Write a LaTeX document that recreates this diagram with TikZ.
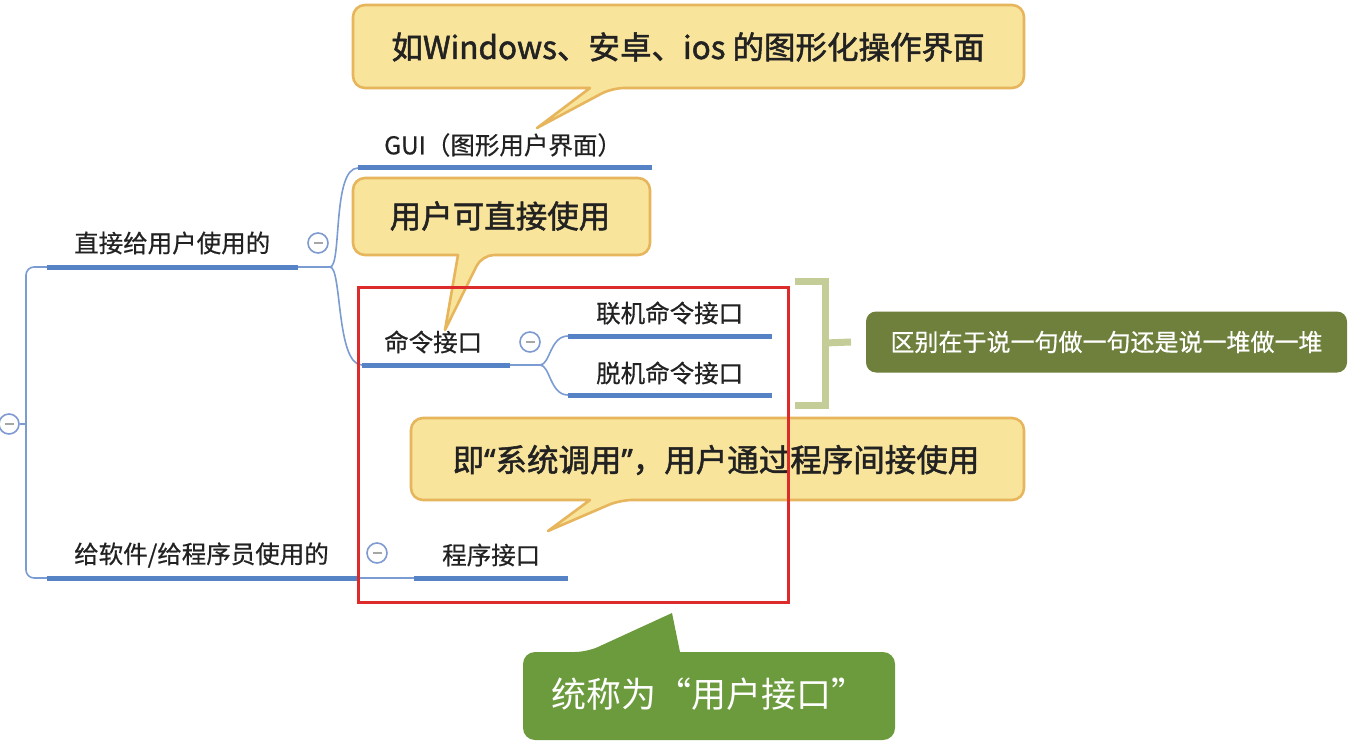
\documentclass[tikz,border=0pt]{standalone}
\usepackage{fontspec}
\setmainfont{Noto Sans CJK SC}
\newfontfamily\medf[FakeBold=0.6]{Noto Sans CJK SC}
\newfontfamily\callf[FakeBold=1.6]{Noto Sans CJK SC}
\newfontfamily\quotef[FakeBold=1.6]{Noto Sans}
\usetikzlibrary{calc}
\definecolor{mblue}{HTML}{5683C6}
\definecolor{tblue}{HTML}{7B9CD2}
\definecolor{cblue}{HTML}{7E9AD0}
\definecolor{yfill}{HTML}{F9E49C}
\definecolor{ydraw}{HTML}{E6B55C}
\definecolor{olive}{HTML}{6E803C}
\definecolor{bracketc}{HTML}{C4CD98}
\definecolor{gfill}{HTML}{6C9B3E}
\definecolor{redc}{HTML}{DD2A2A}
\definecolor{txt}{HTML}{222222}
\begin{document}
\begin{tikzpicture}[x=1pt,y=-1pt,
  thickline/.style={line width=5pt, draw=mblue},
  thinline/.style={line width=1.6pt, draw=tblue},
  lbl/.style={anchor=west, inner sep=0pt, text=txt, font=\medf\fontsize{24.5}{28}\selectfont},
  fold/.style={circle, draw=cblue, line width=1.6pt, fill=white, minimum size=20pt, inner sep=0pt},
  callout/.style={fill=yfill, draw=ydraw, line width=2.6pt, line join=round},
  ctext/.style={inner sep=0pt, text=txt, font=\callf\fontsize{31.5}{36}\selectfont},
]
\useasboundingbox (0,0) rectangle (1348,746);
% coordinates of topic underlines
\coordinate (b1s) at (47,267);  \coordinate (b1e) at (298,267);
\coordinate (guis) at (358,168); \coordinate (guie) at (652,168);
\coordinate (cmds) at (362,365); \coordinate (cmde) at (510,365);
\coordinate (ons) at (568,336);  \coordinate (one) at (772,336);
\coordinate (offs) at (568,395); \coordinate (offe) at (772,395);
\coordinate (b2s) at (47,578);  \coordinate (b2e) at (358,578);
\coordinate (prgs) at (414,578); \coordinate (prge) at (568,578);
\coordinate (trunk) at (26,424);
% connectors
\draw[thinline, rounded corners=8] (b1s) -| (trunk) |- (b2s);
\draw[thinline] (b1e) -- ++(32,0) .. controls +(12,0) and +(-26,0) .. (guis);
\draw[thinline] (b1e) -- ++(32,0) .. controls +(12,0) and +(-26,0) .. (cmds);
\draw[thinline] (cmde) -- ++(30,0) .. controls +(10,0) and +(-18,0) .. (ons);
\draw[thinline] (cmde) -- ++(30,0) .. controls +(10,0) and +(-18,0) .. (offs);
\draw[thinline] (b2e) -- (prgs);
% underlines
\draw[thickline] (b1s) -- (b1e);
\draw[thickline] (guis) -- (guie);
\draw[thickline] (cmds) -- (cmde);
\draw[thickline] (ons) -- (one);
\draw[thickline] (offs) -- (offe);
\draw[thickline] (b2s) -- (b2e);
\draw[thickline] (prgs) -- (prge);
% fold markers
\node[fold] (f0) at (9,424) {};
\draw[thinline] (f0) -- (trunk);
\node[fold] (f1) at (318,243) {};
\node[fold] (f2) at (530,342) {};
\node[fold] (f3) at (377,553) {};
\foreach \f in {f0,f1,f2,f3}{
  \draw[gray!70, line width=1.4pt] ($(\f)+(-4.5,0)$) -- ($(\f)+(4.5,0)$);
}
% labels
\node[lbl] (t1) at (74,243) {直接给用户使用的};
\node[lbl] (tgui) at (384,145) {GUI（图形用户界面）};
\node[lbl] (tcmd) at (384,342) {命令接口};
\node[lbl] (ton) at (596,313) {联机命令接口};
\node[lbl] (toff) at (596,373) {脱机命令接口};
\node[lbl] (t2) at (74,555) {给软件/给程序员使用的};
\node[lbl] (tprg) at (442,555) {程序接口};
% bracket and olive box
\draw[bracketc, line width=7pt, line join=miter] (795,281) -- (825,281) -- (825,405) -- (795,405);
\coordinate (bm) at (825,343);
\node[fill=olive, rounded corners=10pt, minimum width=481pt, minimum height=61pt, inner sep=0pt,
      text=white, font=\medf\fontsize{24}{28}\selectfont] (diff) at (1106.5,342) {区别在于说一句做一句还是说一堆做一堆};
\draw[bracketc, line width=7pt] (bm) -- (diff.west -| 851,0);
% callout 1
\draw[callout] (688,5) [rounded corners=12pt] -- (1024,5) -- (1024,88) -- (612,88) [sharp corners] -- (537,128) -- (590,88) [rounded corners=12pt] -- (353,88) -- (353,5) -- cycle;
\node[ctext] (c1) at (688,47) {如Windows、安卓、ios 的图形化操作界面};
% callout 2
\draw[callout] (500,178) [rounded corners=12pt] -- (650,178) -- (650,255) -- (482,255) [sharp corners] -- (445,330) -- (458,255) [rounded corners=12pt] -- (353,255) -- (353,178) -- cycle;
\node[ctext] (c2) at (500,216) {用户可直接使用};
% callout 3
\draw[callout] (716,418) [rounded corners=12pt] -- (1024,418) -- (1024,500) -- (620,500) [sharp corners] -- (548,531) -- (590,500) [rounded corners=12pt] -- (411,500) -- (411,418) -- cycle;
\node[ctext] (c3) at (716,460) {即{\quotef“}系统调用{\quotef”}，用户通过程序间接使用};
% green callout
\fill[gfill] (709,652) [rounded corners=12pt] -- (895,652) -- (895,740) -- (523,740) -- (523,652) -- (587,652) [sharp corners] -- (672,613) -- (680,652) -- cycle;
\node[inner sep=0pt, text=white, font=\fontsize{35}{40}\selectfont] (c4) at (709,694) {统称为“用户接口”};
% red frame
\draw[redc, line width=3pt] (358,287) rectangle (788,602);
\end{tikzpicture}
\end{document}
